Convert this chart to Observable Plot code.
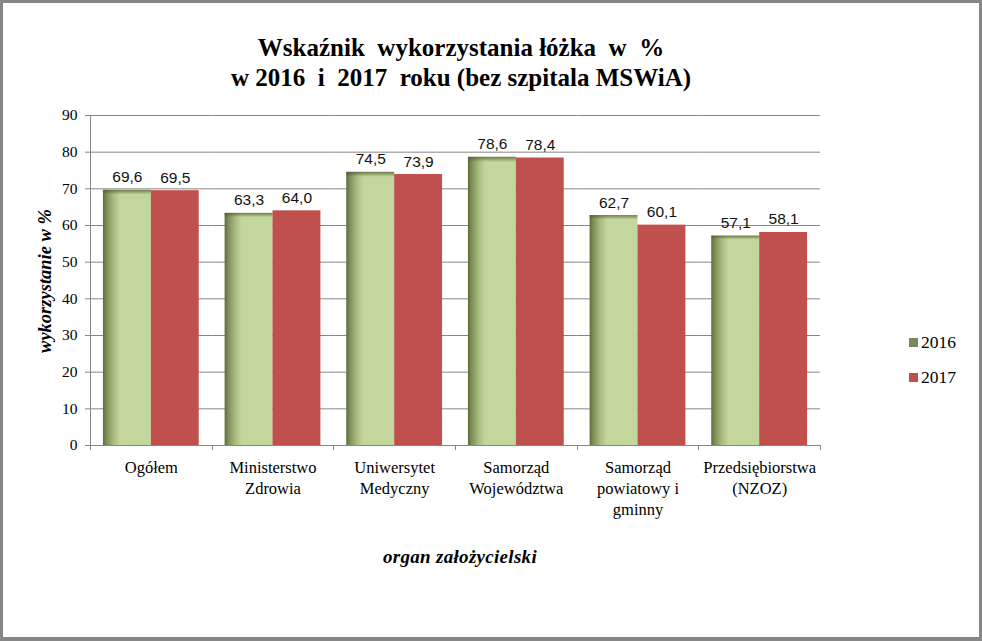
<!DOCTYPE html>
<html><head><meta charset="utf-8">
<script src="https://cdn.jsdelivr.net/npm/d3@7"></script>
<script src="https://cdn.jsdelivr.net/npm/@observablehq/plot@0.6"></script>
<style>
body{margin:0;background:#fff;}
#wrap{position:relative;width:982px;height:641px;box-sizing:border-box;border:3px solid #878787;border-bottom-width:4px;background:#fff;overflow:hidden;font-family:"Liberation Serif","Times New Roman","DejaVu Serif",serif;color:#000;}
#title{position:absolute;left:0;top:30px;width:916px;text-align:center;font-weight:bold;font-size:25px;line-height:30px;}
#title span{display:inline-block;white-space:pre;}
#chart{position:absolute;left:0;top:97px;}
#ylab{position:absolute;left:42px;top:278px;transform:translate(-50%,-50%) rotate(-90deg);font-weight:bold;font-style:italic;font-size:18.5px;white-space:pre;}
#xlab{position:absolute;left:457px;top:554px;transform:translate(-50%,-50%);font-weight:bold;font-style:italic;font-size:19px;letter-spacing:0.3px;white-space:pre;}
#legend{position:absolute;left:906px;top:322px;font-size:17.5px;}
#legend div{display:flex;align-items:center;height:35px;}
#legend i{display:inline-block;width:9px;height:9px;margin-right:3px;}
</style></head>
<body>
<div id="wrap">
  <div id="title"><span>Wskaźnik  wykorzystania łóżka  w  %</span><br><span>w 2016  i  2017  roku (bez szpitala MSWiA)</span></div>
  <div id="chart"></div>
  <div id="ylab">wykorzystanie w %</div>
  <div id="xlab">organ założycielski</div>
  <div id="legend"></div>
</div>
<script>
const categories = ["Ogółem", "Ministerstwo\nZdrowia", "Uniwersytet\nMedyczny", "Samorząd\nWojewództwa", "Samorząd\npowiatowy i\ngminny", "Przedsiębiorstwa\n(NZOZ)"];
const years = ["2016", "2017"];
const values2016 = [69.6, 63.3, 74.5, 78.6, 62.7, 57.1];
const values2017 = [69.5, 64.0, 73.9, 78.4, 60.1, 58.1];
const yTicks = [0, 10, 20, 30, 40, 50, 60, 70, 80, 90];
const colors = {"2016": "#7b8a5c", "2017": "#c0504d"};

const rows = [];
categories.forEach((c, i) => {
  rows.push({cat: c, year: "2016", value: values2016[i]});
  rows.push({cat: c, year: "2017", value: values2017[i]});
});
const fmt = v => d3.format(".1f")(v).replace(".", ",");
const W = 976, H = 538;
const ML = 87, MR = 159, MT = 15, MB = 193;
const serif = "'Liberation Serif', 'Times New Roman', 'DejaVu Serif', serif";

const rows2016 = rows.filter(d => d.year === "2016");
const plot = Plot.plot({
  width: W, height: H,
  marginLeft: ML, marginRight: MR, marginTop: MT, marginBottom: MB,
  style: {fontFamily: serif, background: "transparent", color: "#000"},
  fx: {domain: categories, padding: 0, round: false, label: null, axis: null},
  x: {domain: years, paddingInner: 0, paddingOuter: 0.27, round: false, axis: null},
  y: {domain: [0, 90], label: null, axis: null},
  marks: [
    Plot.gridY(yTicks, {stroke: "#868686", strokeOpacity: 1}),
    Plot.barY(rows2016, {fx: "cat", x: "year", y: "value", fill: "url(#g2016)"}),
    Plot.barY(rows2016, {fx: "cat", x: "year", y: "value", fill: "url(#gtop)"}),
    Plot.barY(rows.filter(d => d.year === "2017"), {fx: "cat", x: "year", y: "value", fill: colors["2017"]}),
    Plot.ruleY([0], {stroke: "#868686"}),
    Plot.text(rows, {fx: "cat", x: "year", y: "value", text: d => fmt(d.value), dy: -13, fontFamily: "'Liberation Sans', Arial, sans-serif", fontSize: 15.5, fill: "#111"}),
    Plot.axisY(yTicks, {tickSize: 5, tickPadding: 8, stroke: "#868686", fontSize: 15.5, fontFamily: serif, label: null}),
    Plot.axisFx({anchor: "bottom", tickSize: 0, tickPadding: 13, fontSize: 16.5, fontFamily: serif, lineHeight: 1.27, label: null})
  ]
});
document.getElementById("chart").appendChild(plot);

const svg = d3.select(plot);
svg.insert("defs", ":first-child").html(`
  <linearGradient id="g2016" x1="0" y1="0" x2="1" y2="0">
    <stop offset="0" stop-color="#5e6d3a"/>
    <stop offset="0.08" stop-color="#7f9058"/>
    <stop offset="0.22" stop-color="#a8bb80"/>
    <stop offset="0.36" stop-color="#c3d69b"/>
    <stop offset="1" stop-color="#c3d69b"/>
  </linearGradient>
  <linearGradient id="gtop" x1="0" y1="0" x2="0" y2="1">
    <stop offset="0" stop-color="#4e5a2e" stop-opacity="0.75"/>
    <stop offset="0.018" stop-color="#4e5a2e" stop-opacity="0"/>
    <stop offset="1" stop-color="#4e5a2e" stop-opacity="0"/>
  </linearGradient>`);

// axis lines and group boundary ticks
const ys = plot.scale("y"), fxs = plot.scale("fx");
const y0 = ys.apply(0), yTop = ys.apply(90);
const axisG = svg.append("g").attr("stroke", "#868686").attr("shape-rendering", "crispEdges");
axisG.append("line").attr("x1", ML + 0.5).attr("x2", ML + 0.5).attr("y1", yTop).attr("y2", y0);
const bounds = categories.map(c => fxs.apply(c)).concat([fxs.apply(categories[categories.length - 1]) + fxs.bandwidth]);
bounds.forEach(b => axisG.append("line").attr("x1", b + 0.5).attr("x2", b + 0.5).attr("y1", y0).attr("y2", y0 + 5));

// legend
const leg = d3.select("#legend");
years.forEach(y => {
  const r = leg.append("div");
  r.append("i").style("background", colors[y]);
  r.append("span").text(y);
});
</script>
</body></html>
